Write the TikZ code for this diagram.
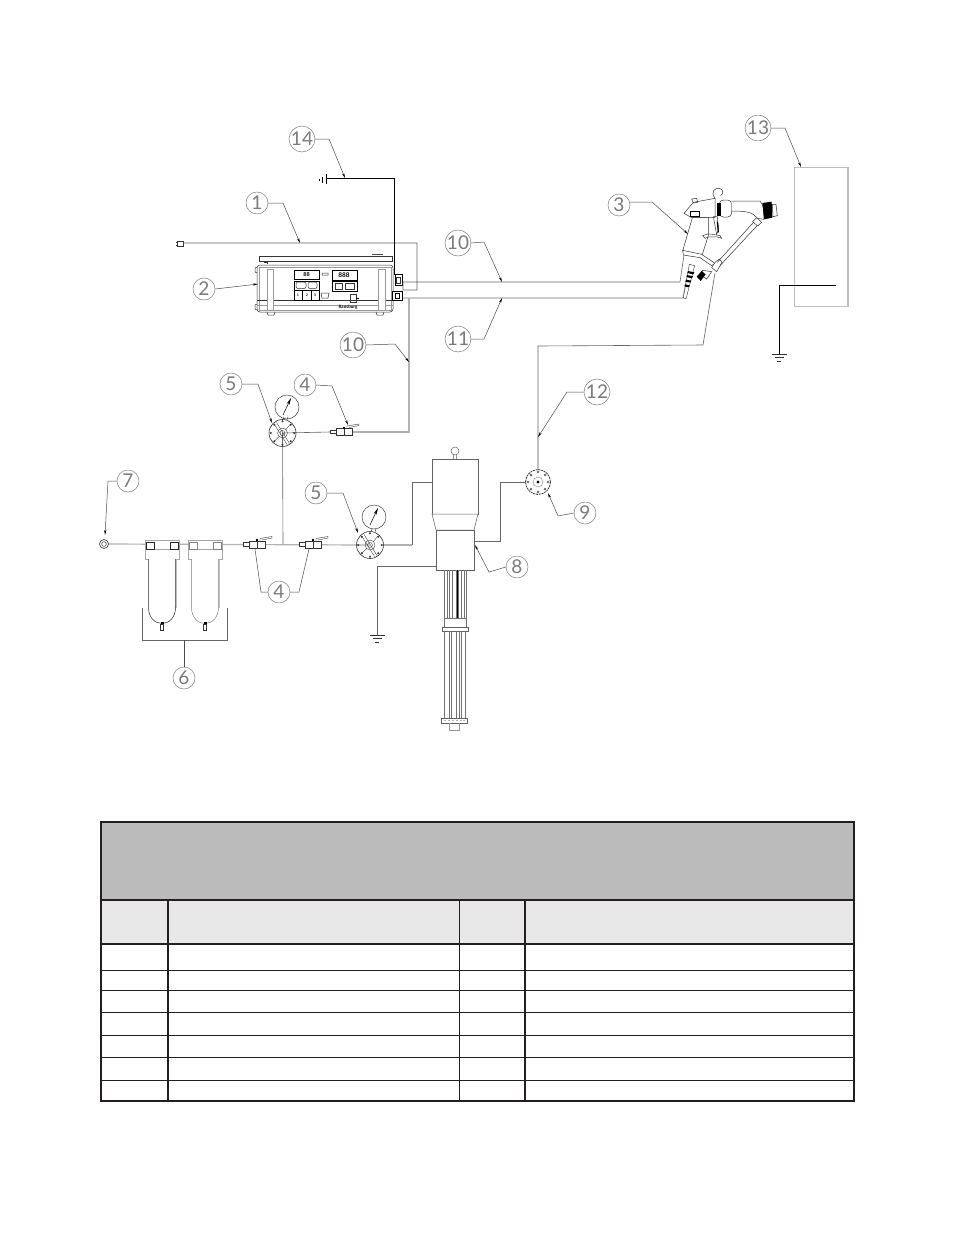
\documentclass[tikz,border=0pt]{standalone}
\usepackage{fontspec}
\setmainfont{Lato}
\usetikzlibrary{arrows.meta}
\definecolor{tline}{HTML}{231F20}
\definecolor{tgrey}{HTML}{BBBBBB}
\definecolor{thead}{HTML}{E8E8E8}
\tikzset{
  lab/.style={circle,draw=black!55,line width=.45pt,minimum size=22pt,inner sep=0pt,text=black!52,font=\fontsize{19}{19}\selectfont},
  leader/.style={draw=black!70,line width=.5pt,-{Stealth[length=5pt,width=2.2pt,black]}},
  part/.style={draw=black!80,line width=.5pt},
  pumpline/.style={draw=black!62,line width=.5pt},
  rod/.style={draw=black!55,line width=.35pt},
  pipe/.style={draw=black!30,line width=1.2pt},
  wire/.style={draw=black!60,line width=.6pt},
  gnd/.style={draw=black,line width=1pt},
  heavy/.style={draw=black,line width=.9pt},
  hrule/.style={draw=tline,line width=1.1pt},
  pics/regul/.style={code={
    \draw[part,line width=.6pt] (0,0) circle (13.5);
    \foreach \a in {0,45,...,315} \fill[black!80] (\a:11.7) circle (1.1);
    \draw[part,line width=.35pt] (0,0) circle (5) (0,0) circle (2.5);
    \draw[part,line width=.35pt] (-6,-10.5) -- (7,10.5) (-8,-8.5) -- (4.5,11.5);
    \draw[part,line width=.35pt] (8,-9) -- (3,-3) (-8,8) -- (-3,3);
  }},
  pics/gaug/.style={code={
    \draw[part,line width=.45pt] (0,0) circle (12);
    \draw[-{Stealth[length=7pt,width=3pt,black]},black,line width=.5pt] (-4,8) -- (4,-9);
  }},
  pics/valv/.style={code={
    \draw[part,line width=.4pt,fill=white] (0,-1.5) rectangle (6,2) (6,-3) rectangle (14,4) (14,-3) rectangle (22,4);
    \draw[part,line width=.4pt] (17,-3) -- (17,-5.5) -- (29,-7.5) -- (29,-6) -- (19,-4) ;
    \fill[black] (13,-5) rectangle (15,-3);
  }},
  pics/filt/.style={code={
    \draw[draw=black!35,line width=.8pt,fill=white] (0,0) rectangle (34,9.5);
    \draw[draw=black!35,line width=.5pt,fill=white] (0,-9) rectangle (34,0);
    \draw[draw=#1,line width=.5pt] (1,-7) rectangle (9,0) (25,-7) rectangle (33,0);
    \draw[draw=#1,line width=.5pt,fill=white] (3.5,9.5) -- (3.5,58) .. controls (3.5,68) and (10,74) .. (17,74) .. controls (24,74) and (30.5,68) .. (30.5,58) -- (30.5,9.5);
    \draw[draw=black!25,line width=1pt] (31,9.5) -- (31,58);
    \fill[black] (15.5,72) rectangle (18.5,75);
    \draw[part,fill=white] (15.5,75) rectangle (18.5,80.5);
  }},
  pics/earth/.style={code={
    \draw[part,line width=.6pt] (-7.5,0) -- (7.5,0) (-4.5,3.5) -- (4.5,3.5) (-2.3,7) -- (2.3,7);
  }}
}
\begin{document}
\begin{tikzpicture}[x=1pt,y=-1pt,line cap=butt]
\useasboundingbox (0,0) rectangle (954,1235);
\fill[white] (0,0) rectangle (954,1235);

% ---- controller
\draw[part] (259,256) rectangle (392,261);
\draw[black!70,line width=.9pt] (372,254.5) -- (383,254.5);
\draw[part,rounded corners=3pt] (257,265) rectangle (393,312);
\draw[draw=black!40,line width=.5pt] (259.5,267) rectangle (391,310.5);
\draw[part] (257,300) -- (393,300);
\draw[draw=black!40,line width=.5pt] (257,305) -- (393,305);
\draw[draw=black!40,line width=.7pt,fill=white] (267,269) rectangle (273,310) (378,269) rectangle (385,310);
\draw[part] (267,312) -- (268,315) -- (274,315) -- (275,312) (376,312) -- (377,315) -- (383,315) -- (384,312);
\draw[part] (257,267) -- (255,268) -- (255,272) -- (257,273) (257,304) -- (255,305) -- (255,309) -- (257,310);
\draw[part] (264,262) -- (268,262) (267,261) -- (267,264);
% panels
\draw[black,line width=.9pt,fill=white] (294,270) rectangle (319,279);
\draw[black,line width=.8pt,fill=white] (294,281) rectangle (319,300);
\draw[black,line width=.5pt] (294,290) -- (319,290) (302.5,290) -- (302.5,300) (311,290) -- (311,300);
\draw[part,rounded corners=2pt] (296,282) rectangle (306,288.5) (308,282) rectangle (317,288.5);
\draw[black,line width=.9pt,fill=white] (332,270) rectangle (357,280);
\draw[black,line width=.9pt,fill=white] (332,281) rectangle (357,291);
\draw[part] (335,283) rectangle (342,289) (345,283) rectangle (354,289);
\node[inner sep=0pt,font=\fontsize{5.5}{5.5}\selectfont\bfseries] (disp1) at (306.5,274.7) {88};
\node[inner sep=0pt,font=\fontsize{6.5}{6.5}\selectfont\bfseries] (disp2) at (344,275) {888};
\node[inner sep=0pt,font=\fontsize{3.5}{3.5}\selectfont\bfseries] (btn1) at (298,295.5) {1};
\node[inner sep=0pt,font=\fontsize{3.5}{3.5}\selectfont\bfseries] (btn2) at (306.8,295.5) {2};
\node[inner sep=0pt,font=\fontsize{3.5}{3.5}\selectfont\bfseries] (btn3) at (315,295.5) {3};
\draw[part] (321,293) -- (322,298) -- (328,298) -- (329,293) -- cycle (322,273) rectangle (328,275);
\draw[part] (350,294) rectangle (356,302);
\draw[black,line width=.8pt] (356,298) -- (359,298);
\node[inner sep=0pt,font=\fontsize{4.5}{4.5}\selectfont\bfseries] (brand) at (348,307.6) {Ransburg};
\draw[black,line width=.9pt,fill=white] (395,274) rectangle (402,285);
\draw[part] (396.5,277) rectangle (400,283);
\draw[black,line width=1pt,fill=white] (392,291) rectangle (402,300);
\draw[black,line width=.8pt] (395,293) rectangle (399,298);

% ---- coordinates of the piping
\coordinate (plug) at (183,243);
\coordinate (cableA) at (417,243);
\coordinate (cableB) at (417,290);
\coordinate (cableC) at (403,290);
\coordinate (cableD) at (403,282);
\coordinate (gunA) at (680,282);
\coordinate (gunB) at (684,255);
\coordinate (hoseA) at (403,298);
\coordinate (hoseB) at (683,298);
\coordinate (hoseC) at (687,278);
\coordinate (airA) at (409,298);
\coordinate (airB) at (409,432);
\coordinate (reg1) at (282.5,433);
\coordinate (reg2) at (370,545);
\coordinate (reg3) at (538,482);
\coordinate (tee) at (283,544);

\draw[part,fill=white] (177,241) rectangle (183,246);
\draw[part] (177,242) -- (175.5,242) (177,245) -- (175.5,245);
\draw[wire] (plug) -- (cableA) -- (cableB) -- (cableC) -- (cableD) -- (gunA) -- (gunB);
\draw[pipe] (hoseA) -- (hoseB) -- (hoseC);
\draw[pipe] (airA) -- (airB) -- (352,432);
\draw[heavy] (326,178) -- (394,178) -- (394,275);
\draw[gnd] (326,174) -- (326,184);
\draw[black,line width=.8pt] (322,176.5) -- (322,182.5) (319,178.5) -- (319,180.5);

% ---- gun
\begin{scope}[shift={(660,175)},x=.3333pt,y=-.3333pt]
 \draw[part,fill=white] (72,115) -- (100,82) -- (165,70) -- (165,127) -- (95,128) -- cycle;
 \draw[part] (165,70) .. controls (150,50) and (165,38) .. (178,40) .. controls (190,43) and (192,55) .. (182,62);
 \draw[part] (95,72) -- (110,70) -- (113,82) -- (100,84) -- cycle;
 \draw[black,line width=.8pt] (90,108) rectangle (118,124);
 \draw[part,fill=white,rounded corners=4pt] (178,75) rectangle (215,126);
 \fill[black] (172,83) rectangle (182,122);
 \draw[part,fill=white] (215,78) -- (300,78) .. controls (305,85) and (308,88) .. (310,100) -- (312,133) -- (292,130) .. controls (280,112) and (260,108) .. (215,108);
 \fill[black] (307,84) -- (335,80) -- (337,128) -- (313,133) -- cycle;
 \draw[part,fill=white] (337,88) -- (348,88) -- (352,122) -- (339,125) -- cycle;
 \draw[part,fill=white] (97,128) -- (68,228) -- (125,245) -- (146,178) -- (146,128) -- cycle;
 \draw[part] (160,125) -- (172,125) -- (176,165) -- (170,178) -- (160,125);
 \draw[black,line width=1.2pt] (172,140) -- (175,172);
 \draw[part] (128,182) .. controls (145,172) and (165,180) .. (180,182) -- (185,190) -- (172,186) -- (145,186) -- (135,190) -- cycle;
 \draw[part,fill=white] (68,226) -- (125,238) -- (165,265) -- (155,272) -- (120,248) -- (70,240) -- cycle;
 \draw[part,fill=white] (165,262) -- (178,252) -- (186,262) -- (170,290) -- (155,278) -- cycle;
 \draw[part] (172,262) -- (284,138) -- (295,148) -- (180,272);
 \draw[part,fill=white] (278,140) -- (290,128) -- (305,142) -- (293,153) -- cycle;
 \draw[part,fill=white] (128,286) -- (155,290) -- (140,312) -- (122,300) -- cycle;
 \fill[black] (110,305) -- (125,288) -- (137,298) -- (122,318) -- cycle;
 \draw[part,line width=.4pt,fill=white] (88,268) -- (104,272) -- (78,372) -- (70,368) -- cycle;
 \fill[black] (84,288) -- (103,292) -- (100,298) -- (82,294) -- cycle (81,300) -- (99,304) -- (96,310) -- (79,306) -- cycle (78,314) -- (94,317) -- (91,323) -- (76,320) -- cycle (75,328) -- (89,331) -- (86,337) -- (73,334) -- cycle;
\end{scope}

% ---- object and ground
\draw[draw=black!25,line width=.6pt] (794,167) rectangle (848,306);
\draw[draw=black!25,line width=1.2pt] (848,167) -- (848,306);
\coordinate (objIn) at (836,285);
\coordinate (objB) at (779,285);
\coordinate (objG) at (779,354);
\draw[black,line width=.9pt] (objIn) -- (objB) -- (objG);
\pic at (objG) {earth};

% ---- air line
\coordinate (inlet) at (104,544);
\draw[pipe] (inlet) -- (reg2);
\draw[part,line width=.6pt,fill=white] (inlet) circle (4.5);
\draw[part,line width=.5pt] (inlet) circle (2.4);
\pic at (145,549.5) {filt=black!85};
\pic at (188,549.5) {filt=black!50};
\draw[wire] (tee) -- (reg1);
\pic at (243,544) {valv};
\pic at (299,544) {valv};
\pic at (330,431.5) {valv};
\draw[wire] (reg1) -- (330,432);
\draw[wire] (142,608) -- (142,640) -- (227,640) -- (227,608);
\pic at (reg1) {regul};
\draw[part] (283,419.5) -- (284,417) (287,419.5) -- (288,417);
\pic at (287,407) {gaug};
\pic at (reg2) {regul};
\draw[part] (371,531.5) -- (372,529) (375,531.5) -- (376,529);
\pic at (374,517) {gaug};

% ---- pump
\coordinate (pTopL) at (432,482);
\coordinate (pLowL) at (436,566);
\coordinate (pLowR) at (474,541);
\draw[pipe] (reg2) ++(13.5,0) -- (412,545);
\draw[wire] (412,545) -- (412,482) -- (pTopL);
\draw[wire] (pLowL) -- (377,566) -- (377,635);
\pic at (377,635) {earth};
\draw[wire] (pLowR) -- (500,541) -- (500,482) -- (reg3);
\draw[pumpline,fill=white] (432,459) rectangle (478,514);
\draw[pumpline,fill=white] (432,514) -- (436,530) -- (474,530) -- (478,514) -- cycle;
\draw[pumpline,fill=white] (436,530) rectangle (474,570);
\draw[pumpline] (455,451) circle (4) (453.5,455) -- (453.5,459) (456.5,455) -- (456.5,459);
\foreach \x in {444,447,449,452,456,458,461,464,466} \draw[rod] (\x,570) -- (\x,618);
\draw[black,line width=.6pt] (457.5,570) -- (457.5,618);
\draw[rod] (444,618) rectangle (466,627);
\draw[pumpline] (442,627) rectangle (468,631);
\foreach \x in {444,449,451,456,459,461,465} \draw[rod] (\x,631) -- (\x,718);
\draw[pumpline] (441,718) rectangle (467,723);
\foreach \x in {445,449,453,457,461,464} \fill[black!60] (\x,720.5) circle (.7);
\draw[draw=black!40,line width=.6pt] (449,723) -- (449,730) -- (459,730) -- (459,723);

% ---- fluid regulator and supply to the gun
\draw[pipe,black!25] (reg3) -- (538,437);
\draw[wire] (538,437) -- (538,346) -- (703,345) -- (715,273);
\draw[part,line width=.8pt,dash pattern=on 2pt off .8pt,fill=white] (reg3) circle (12.5);
\foreach \a in {0,45,...,315} \draw[part,line width=.4pt] (538,482) ++(\a:10) circle (1.1);
\draw[draw=black!50,line width=.4pt] (reg3) circle (5);
\fill[black] (reg3) circle (1.7);

% ---- callouts
\node[lab] (l14) at (302,139) {14};
\node[lab] (l1)  at (257,203) {1};
\node[lab] (l2)  at (204,289) {2};
\node[lab] (l3)  at (619,205) {3};
\node[lab] (l13) at (758,128) {13};
\node[lab] (l10a) at (458,243) {10};
\node[lab] (l11) at (458,339) {11};
\node[lab] (l10b) at (353,345) {10};
\node[lab] (l5a) at (231,384) {5};
\node[lab] (l4a) at (305,385) {4};
\node[lab] (l12) at (597,392) {12};
\node[lab] (l7)  at (128,481) {7};
\node[lab] (l5b) at (316,493) {5};
\node[lab] (l9)  at (585,513) {9};
\node[lab] (l8)  at (517,567) {8};
\node[lab] (l4b) at (279,592) {4};
\node[lab] (l6)  at (184,678) {6};

\draw[leader] (l14.east) -- (329,139) -- (345,178);
\draw[leader] (l1.east) -- (283,203) -- (300,243);
\draw[leader] (l2.east) -- (258,284);
\draw[leader] (l3.east) ++(0,-3) -- (652,202) -- (688,234);
\draw[leader] (l13.east) -- (785,128) -- (801,167);
\draw[leader] (l10a.east) -- (484,242) -- (502,282);
\draw[leader] (l11.east) -- (484,339) -- (502,298);
\draw[leader] (l10b.east) -- (395,344) -- (409,362);
\draw[leader] (l5a.east) -- (258,384) -- (272,423);
\draw[leader] (l4a.east) -- (332,386) -- (348,425);
\draw[leader] (l12.west) -- (567,392) -- (538,437);
\draw[leader] (l7.west) -- (108,481) -- (105,535);
\draw[leader] (l5b.east) -- (343,493) -- (358,533);
\draw[leader] (l9.west) -- (558,516) -- (548,493);
\draw[leader] (l8.west) -- (489,572) -- (475,545);
\draw[draw=black!70,line width=.5pt] (l4b.west) -- (261,592) -- (255,549);
\draw[draw=black!70,line width=.5pt] (l4b.east) -- (299,592) -- (309,549);
\draw[draw=black!70,line width=.5pt] (l6.north) -- (184,640);

% ---- table
\fill[tgrey] (101,822) rectangle (854,900);
\fill[thead] (101,900) rectangle (854,944);
\foreach \y in {970.3,990.3,1012.3,1035.3,1057.3,1080.3} \draw[hrule] (101,\y) -- (854,\y);
\draw[hrule] (101,900) -- (854,900);
\draw[tline,line width=2pt] (101,943.7) -- (854,943.7);
\draw[tline,line width=1.8pt] (168,900) -- (168,1101) (459.5,900) -- (459.5,1101);
\draw[tline,line width=1.1pt] (525,900) -- (525,1101);
\draw[tline,line width=2pt] (101,822) rectangle (854,1101);
\end{tikzpicture}
\end{document}
